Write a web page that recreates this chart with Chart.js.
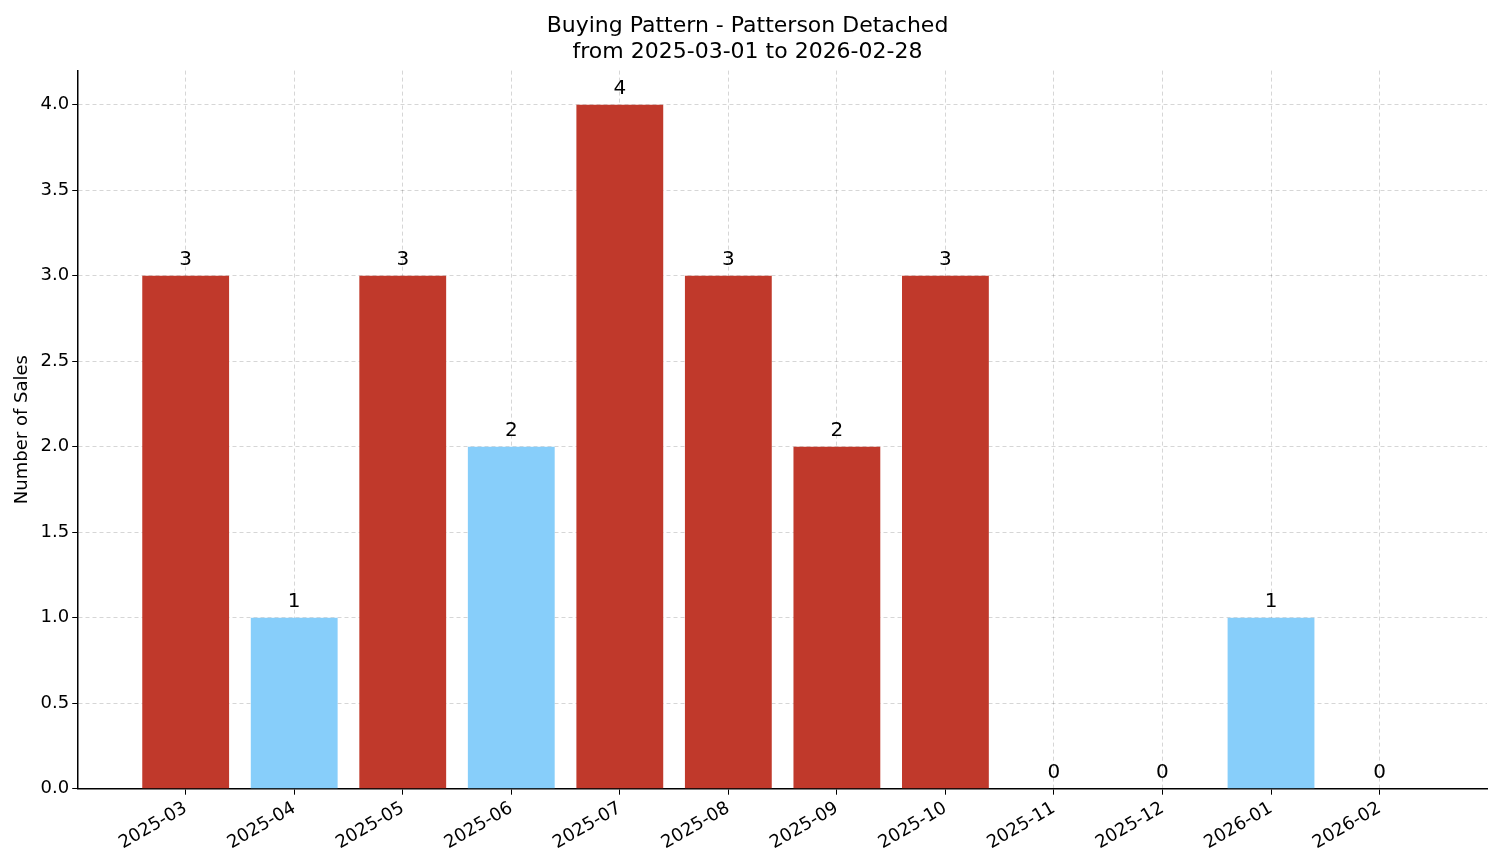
<!DOCTYPE html>
<html><head><meta charset="utf-8">
<script src="https://cdn.jsdelivr.net/npm/chart.js@4"></script>
<style>html,body{margin:0;padding:0;background:#fff}#w{width:1501px;height:863px}</style>
</head><body><div id="w"><canvas id="c"></canvas></div>
<script>
const months = ["2025-03","2025-04","2025-05","2025-06","2025-07","2025-08","2025-09","2025-10","2025-11","2025-12","2026-01","2026-02"];
const sales = [3,1,3,2,4,3,2,3,0,0,1,0];
const barColors = ["#c0392b","#87cefa","#c0392b","#87cefa","#c0392b","#c0392b","#c0392b","#c0392b","#c0392b","#c0392b","#87cefa","#c0392b"];
const yTicks = [0,0.5,1,1.5,2,2.5,3,3.5,4];
const F = "DejaVu Sans";
const labelPlugin = {id:'lbl', afterDatasetsDraw(ch){
  const ctx=ch.ctx, meta=ch.getDatasetMeta(0);
  ctx.save(); ctx.font="20px '"+F+"'"; ctx.fillStyle="#000"; ctx.textAlign="center"; ctx.textBaseline="bottom";
  meta.data.forEach((b,i)=>ctx.fillText(String(sales[i]), b.x, b.y-6));
  ctx.restore();
}};
new Chart(document.getElementById('c'),{
  type:'bar',
  data:{datasets:[{data:sales.map((v,i)=>({x:i,y:v})),backgroundColor:barColors,categoryPercentage:1,barPercentage:0.8}]},
  options:{responsive:true,maintainAspectRatio:false,animation:false,
    layout:{padding:{left:8,right:14,top:4,bottom:6}},
    plugins:{legend:{display:false},tooltip:{enabled:false},
      title:{display:true,text:["Buying Pattern - Patterson Detached","from 2025-03-01 to 2026-02-28"],color:"#000",font:{family:F,size:22,weight:'normal',lineHeight:1.15},padding:{top:10,bottom:6}}},
    scales:{
      x:{type:'linear',min:-0.99,max:11.99,offset:false,z:1,
        afterBuildTicks(ax){ax.ticks=months.map((m,i)=>({value:i}));},
        ticks:{autoSkip:false,maxRotation:30,minRotation:30,color:"#000",font:{family:F,size:18},callback:(v)=>months[Math.round(v)]},
        grid:{offset:false,color:"rgba(0,0,0,0.16)",tickColor:"#000",tickLength:6},
        border:{color:"#000",width:1.5,dash:[4,3]}
      },
      y:{min:0,max:4.2,z:1,
        afterBuildTicks(ax){ax.ticks=yTicks.map(v=>({value:v}));},
        title:{display:true,text:"Number of Sales",color:"#000",font:{family:F,size:18}},
        ticks:{color:"#000",font:{family:F,size:18},callback:v=>v.toFixed(1)},
        grid:{color:"rgba(0,0,0,0.16)",tickColor:"#000",tickLength:6},
        border:{color:"#000",width:1.5,dash:[4,3]}
      }
    }
  },
  plugins:[labelPlugin]
});
</script></body></html>
